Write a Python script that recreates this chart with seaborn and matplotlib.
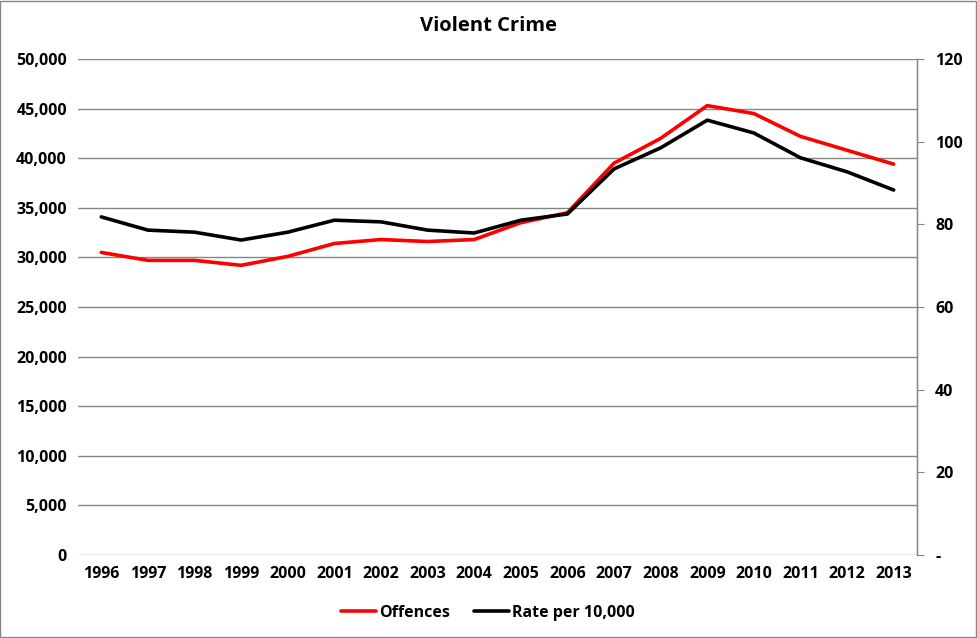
import pandas as pd
import numpy as np
import matplotlib.pyplot as plt
import seaborn as sns
from matplotlib.ticker import FuncFormatter, MultipleLocator

sns.set_style("white")
plt.rcParams['font.family'] = ['Open Sans', 'DejaVu Sans']
plt.rcParams['font.weight'] = 'bold'
plt.rcParams.update({'text.color': 'black', 'xtick.color': 'black', 'ytick.color': 'black'})

# Data
years = [str(y) for y in range(1996, 2014)]
offences = [30500, 29700, 29700, 29200, 30100, 31400, 31800, 31600, 31800,
            33500, 34500, 39500, 42000, 45300, 44500, 42200, 40800, 39400]
rate_per_10000 = [81.8, 78.6, 78.1, 76.2, 78.1, 81.0, 80.6, 78.6, 77.9,
                  81.0, 82.5, 93.4, 98.5, 105.2, 102.1, 96.1, 92.7, 88.3]

df = pd.DataFrame({"Year": years, "Offences": offences, "Rate": rate_per_10000})
df["x"] = np.arange(len(years))

fig = plt.figure(figsize=(9.77, 6.38), dpi=100)
ax = fig.add_axes([78 / 977, 1 - 555 / 638, (917 - 78) / 977, (555 - 59) / 638])
ax2 = ax.twinx()

sns.lineplot(data=df, x="x", y="Offences", ax=ax, color="#ff0000", linewidth=2.6,
             label="Offences", legend=False)
sns.lineplot(data=df, x="x", y="Rate", ax=ax2, color="#000000", linewidth=2.6,
             label="Rate per 10,000", legend=False)

# left axis
ax.set_ylim(0, 50000)
ax.yaxis.set_major_locator(MultipleLocator(5000))
ax.yaxis.set_major_formatter(FuncFormatter(lambda v, p: f"{int(v):,}"))
ax.set_xlim(-0.5, len(years) - 0.5)
ax.set_xticks(df["x"])
ax.set_xticklabels(years)
ax.grid(axis="y", color="#868686", linewidth=1)
ax.set_axisbelow(True)
ax.set_xlabel("")
ax.set_ylabel("")
ax.tick_params(axis="both", length=0, labelsize=11.5, pad=8, labelcolor="black")
for lab in ax.get_xticklabels() + ax.get_yticklabels():
    lab.set_fontweight("bold")
for s in ["left", "top", "bottom"]:
    ax.spines[s].set_visible(False)

# right axis
ax2.set_ylim(0, 120)
ax2.yaxis.set_major_locator(MultipleLocator(20))
ax2.yaxis.set_major_formatter(FuncFormatter(lambda v, p: "-" if v == 0 else f"{int(v)}"))
ax2.set_ylabel("")
ax2.tick_params(axis="y", direction="out", length=5, color="#868686", labelsize=11.5,
                pad=8, labelcolor="black")
for lab in ax2.get_yticklabels():
    lab.set_fontweight("bold")
for s in ["left", "top", "bottom"]:
    ax2.spines[s].set_visible(False)
ax2.spines["right"].set_color("#868686")
ax2.spines["right"].set_linewidth(1)

fig.suptitle("Violent Crime", x=488 / 977, y=1 - 26 / 638, va="center",
             fontsize=14.5, fontweight="bold", color="black")

h1, l1 = ax.get_legend_handles_labels()
h2, l2 = ax2.get_legend_handles_labels()
leg = fig.legend(h1 + h2, l1 + l2, loc="center", bbox_to_anchor=(488 / 977, 1 - 613 / 638),
                 ncol=2, frameon=False, handlelength=2.2, handletextpad=0.2,
                 columnspacing=1.5, prop={"weight": "bold", "size": 11.5})
for t in leg.get_texts():
    t.set_color("black")

# outer border
fig.patches.append(plt.Rectangle((0.0005, 0.0008), 0.998, 0.998, transform=fig.transFigure,
                                 fill=False, edgecolor="#868686", linewidth=1))

fig.savefig("out.png", dpi=100)
